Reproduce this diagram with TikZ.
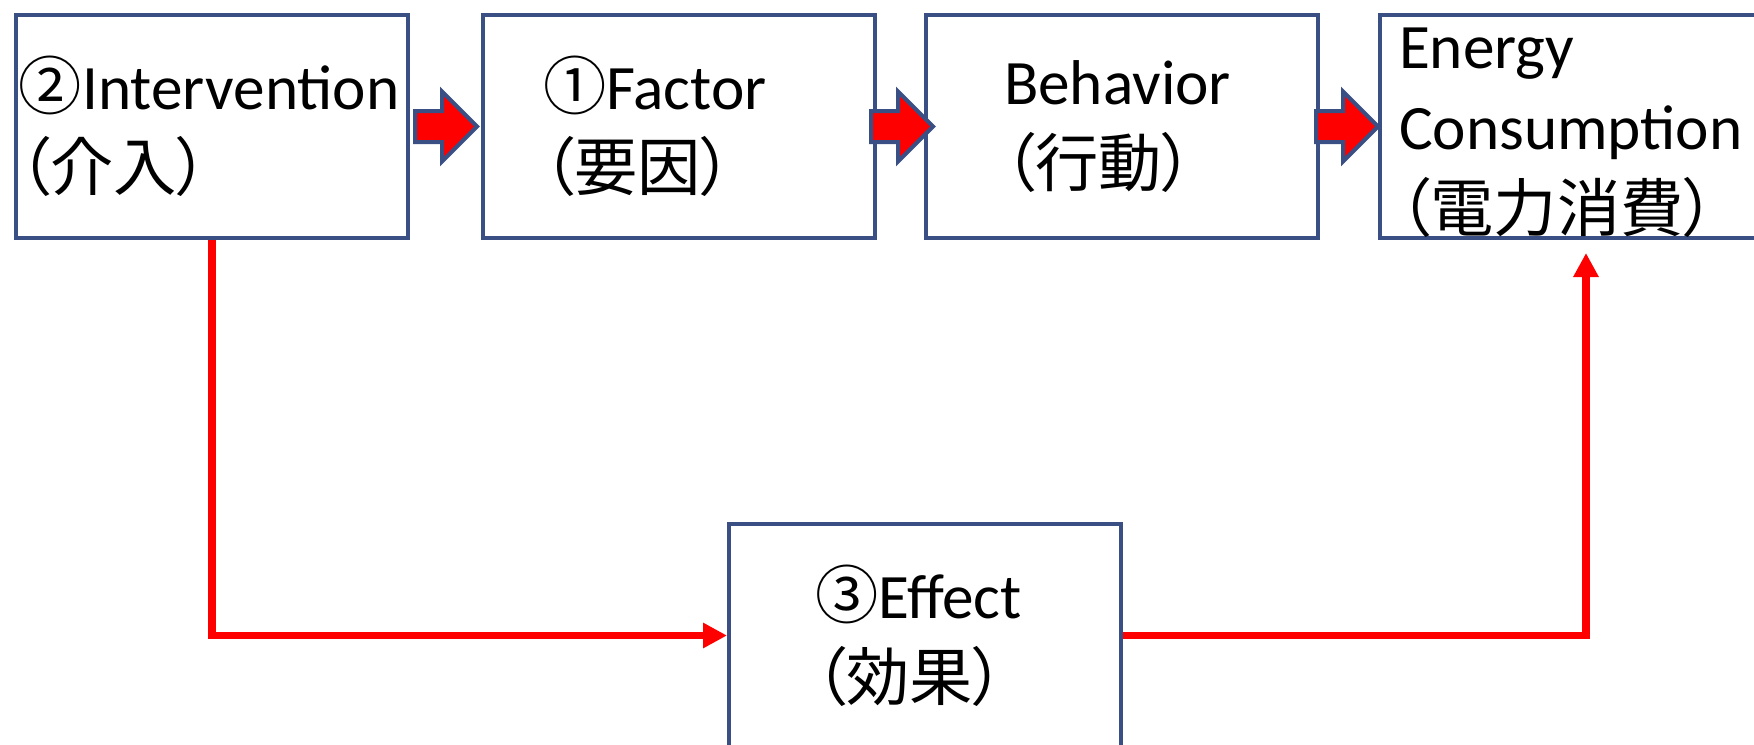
\documentclass[tikz,border=0pt]{standalone}
\usepackage{fontspec}
\setmainfont{Carlito}
\newfontfamily\jp[RawFeature=+palt]{Noto Sans CJK JP}
\usetikzlibrary{positioning, arrows.meta, shapes.arrows}
\definecolor{edge}{HTML}{3A4F84}
\definecolor{flow}{HTML}{FF0000}

\begin{document}
\begin{tikzpicture}[
      box/.style={draw=edge, line width=.04cm, fill=white, text width=3.92cm,
                  minimum height=2.23cm, inner xsep=0pt, inner ysep=0pt, align=left,
                  font=\fontsize{18}{23.2}\selectfont},
      indent/.style={execute at begin node={\leftskip=#1}},
      fat/.style={single arrow, draw=edge, fill=flow, line width=.04cm,
                  minimum height=.62cm, inner xsep=0pt, inner ysep=.135cm,
                  single arrow head extend=.195cm, outer sep=0pt, anchor=tip},
      link/.style={-{Triangle[length=.24cm, width=.24cm]}, flow, line width=.075cm}]
    \useasboundingbox (0,0) rectangle (17.54,-7.44);
    \node[box, indent=.03cm]                      (interv) at (2.12,-1.265) {{\jp ②}Intervention\\{\jp （介入）}};
    \node[box, indent=.6cm, right=.71cm of interv] (factor) {{\jp ①}Factor\\{\jp （要因）}};
    \node[box, indent=.78cm, right=.47cm of factor] (behav) {Behavior\\{\jp （行動）}};
    \node[box, indent=.19cm, right=.58cm of behav]  (energy) {\rule{0pt}{15pt}Energy\\Consumption\\{\jp （電力消費）}};
    \node[box, indent=.86cm]                      (effect) at (9.25,-6.355) {{\jp ③}Effect\\{\jp （効果）}};
    \coordinate (eup) at (15.86,-2.53);
    % block arrows along the top row
    \node[fat] (a1) at ([xshift=-.04cm]factor.west) {};
    \node[fat] (a2) at ([xshift=.09cm]behav.west) {};
    \node[fat] (a3) at (energy.west) {};
    % effect path
    \draw[link] (interv.south) |- (effect.west);
    \draw[link] (effect.east) -| (eup);
  \end{tikzpicture}
\end{document}
